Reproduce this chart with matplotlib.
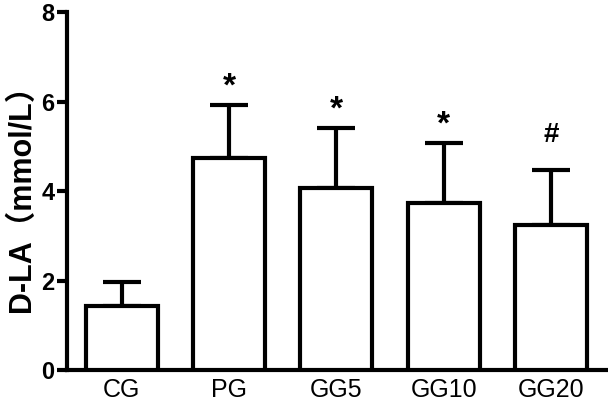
import matplotlib
matplotlib.use("Agg")
import matplotlib.pyplot as plt
import numpy as np

categories = ["CG", "PG", "GG5", "GG10", "GG20"]
means = [1.43, 4.74, 4.07, 3.73, 3.24]
sds = [0.54, 1.18, 1.34, 1.34, 1.23]
marks = ["", "*", "*", "*", "#"]
yticks = [0, 2, 4, 6, 8]

plt.rcParams['font.family'] = ['Liberation Sans', 'Noto Sans CJK SC', 'DejaVu Sans']

fig = plt.figure(figsize=(6.08, 4.07), dpi=100)
ax = fig.add_axes([0.110, 0.091, 0.888, 0.879])

x = np.arange(len(categories))
lw = 3.0
ax.bar(x, means, width=0.67, color='white', edgecolor='black', linewidth=lw, zorder=3)
ax.errorbar(x, means, yerr=[np.zeros(len(sds)), sds], fmt='none', ecolor='black',
            elinewidth=lw, capsize=14, capthick=lw, zorder=2)

for xi, m, s, t in zip(x, means, sds, marks):
    if t == "*":
        ax.text(xi, m + s + 0.40, t, ha='center', va='center', fontsize=24,
                fontweight='bold')
    elif t:
        ax.text(xi, m + s + 0.78, t, ha='center', va='center', fontsize=20,
                fontweight='bold')

ax.set_xlim(-0.51, 4.52)
ax.set_ylim(0, 8)
ax.set_yticks(yticks)
ax.set_yticklabels([str(v) for v in yticks], fontsize=17, fontweight='bold')
ax.set_xticks(x)
ax.set_xticklabels(categories, fontsize=18)
ax.tick_params(axis='x', length=0, pad=6)
ax.tick_params(axis='y', length=7, width=lw, pad=2)
ax.spines['top'].set_visible(False)
ax.spines['right'].set_visible(False)
ax.spines['left'].set_linewidth(lw)
ax.spines['bottom'].set_linewidth(lw)
ax.set_ylabel("D-LA（mmol/L）", fontsize=22, fontweight='bold', labelpad=3)

fig.savefig("out.png", dpi=100)
